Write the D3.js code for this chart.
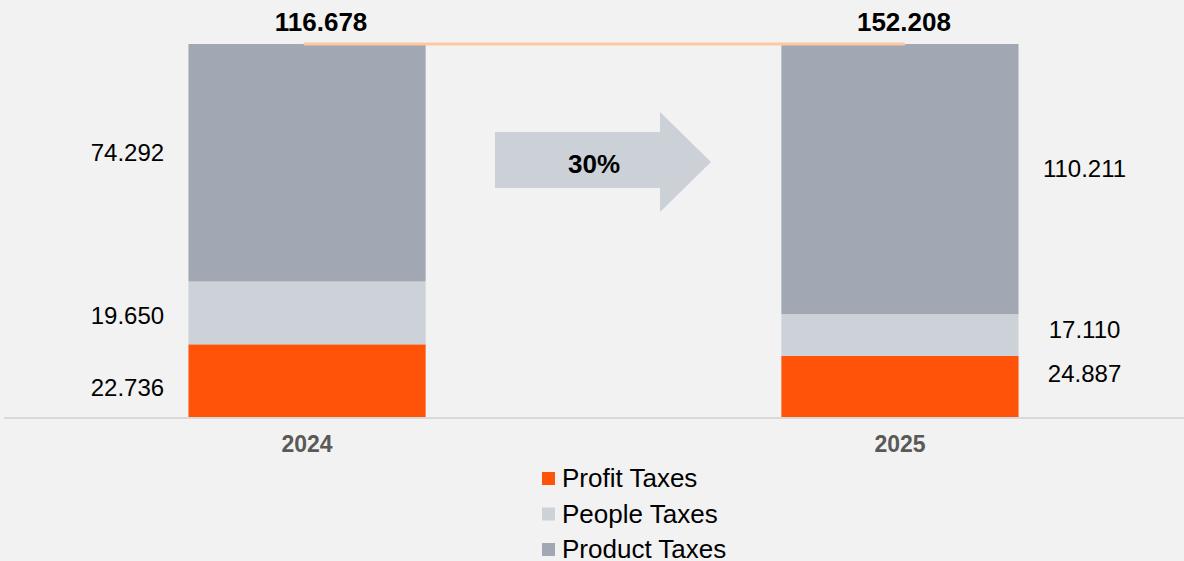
<!DOCTYPE html>
<html>
<head>
<meta charset="utf-8">
<script src="https://cdn.jsdelivr.net/npm/d3@7"></script>
<style>
  html, body { margin: 0; padding: 0; background: #f2f2f2; }
  svg { display: block; font-family: "Liberation Sans", Arial, sans-serif; }
</style>
</head>
<body>
<svg width="1184" height="561"></svg>
<script>
let years = ['2024', '2025'];
let seriesNames = ['Profit Taxes', 'People Taxes', 'Product Taxes'];
let profitTaxes = [22.736, 24.887];
let peopleTaxes = [19.650, 17.110];
let productTaxes = [74.292, 110.211];
let totalLabels = ['116.678', '152.208'];
let valueLabels = [['22.736', '19.650', '74.292'], ['24.887', '17.110', '110.211']];
let growthLabel = '30%';

let width = 1184;
let height = 561;

let colorScale = d3.scaleOrdinal()
    .domain(seriesNames)
    .range(['#ff530a', '#cdd2d9', '#a2a8b3']);

let rows = years.map((y, i) => {
    let total = profitTaxes[i] + peopleTaxes[i] + productTaxes[i];
    return {
        year: y,
        'Profit Taxes': profitTaxes[i] / total,
        'People Taxes': peopleTaxes[i] / total,
        'Product Taxes': productTaxes[i] / total
    };
});

let stacked = d3.stack().keys(seriesNames)(rows);

let x = d3.scaleBand()
    .domain(years)
    .range([10, 1197])
    .paddingInner(0.6)
    .paddingOuter(0.301);

let y = d3.scaleLinear()
    .domain([0, 1])
    .range([417, 44]);

let svg = d3.select('svg')
    .attr('width', width)
    .attr('height', height);

// bars
svg.append('g')
    .selectAll('g')
    .data(stacked)
    .enter()
    .append('g')
        .attr('fill', d => colorScale(d.key))
    .selectAll('rect')
    .data(d => d)
    .enter()
    .append('rect')
        .attr('x', d => x(d.data.year))
        .attr('y', d => y(d[1]))
        .attr('width', x.bandwidth())
        .attr('height', d => y(d[0]) - y(d[1]));

// baseline
svg.append('line')
    .attr('x1', 4)
    .attr('x2', width)
    .attr('y1', y(0) + 1)
    .attr('y2', y(0) + 1)
    .attr('stroke', '#d9d9d9')
    .attr('stroke-width', 2);

// x axis labels
let xAxis = svg.append('g')
    .attr('transform', `translate(0 ${y(0)})`)
    .call(d3.axisBottom(x).tickSize(0).tickPadding(19));
xAxis.select('.domain').remove();
xAxis.selectAll('text')
    .attr('font-size', 23)
    .attr('font-weight', 'bold')
    .attr('fill', '#595959')
    .attr('font-family', '"Liberation Sans", Arial, sans-serif');

// connector line between the totals
svg.append('line')
    .attr('x1', x('2024') + x.bandwidth() / 2 - 2)
    .attr('x2', x('2025') + x.bandwidth() / 2 + 4)
    .attr('y1', y(1))
    .attr('y2', y(1))
    .attr('stroke', '#fcc8a2')
    .attr('stroke-width', 3)
    .attr('stroke-linecap', 'round');

// totals
let totalNudge = [14, 4];
svg.append('g')
    .selectAll('text')
    .data(years)
    .enter()
    .append('text')
        .attr('x', (d, i) => x(d) + x.bandwidth() / 2 + totalNudge[i])
        .attr('y', y(1) - 13)
        .attr('text-anchor', 'middle')
        .attr('font-size', 26)
        .attr('font-weight', 'bold')
        .attr('fill', '#000')
        .text((d, i) => totalLabels[i]);

// segment value labels (left of 2024 bar, right of 2025 bar)
let labelOffsets = [[7, 3, -10], [-13, -5, -10]];
stacked.forEach((layer, k) => {
    layer.forEach((d, i) => {
        let cx = i === 0 ? x(d.data.year) - 61 : x(d.data.year) + x.bandwidth() + 66;
        let cy = (y(d[0]) + y(d[1])) / 2 + labelOffsets[i][k];
        svg.append('text')
            .attr('x', cx)
            .attr('y', cy)
            .attr('dy', '0.35em')
            .attr('text-anchor', 'middle')
            .attr('font-size', 24)
            .attr('fill', '#000')
            .text(valueLabels[i][k]);
    });
});

// growth arrow
let arrow = d3.path();
arrow.moveTo(495, 132);
arrow.lineTo(660, 132);
arrow.lineTo(660, 112);
arrow.lineTo(711, 162);
arrow.lineTo(660, 212);
arrow.lineTo(660, 188);
arrow.lineTo(495, 188);
arrow.closePath();
svg.append('path')
    .attr('d', arrow.toString())
    .attr('fill', '#ccd1d8');
svg.append('text')
    .attr('x', 594)
    .attr('y', 164)
    .attr('dy', '0.35em')
    .attr('text-anchor', 'middle')
    .attr('font-size', 26)
    .attr('font-weight', 'bold')
    .text(growthLabel);

// legend
let legend = svg.append('g')
    .attr('transform', 'translate(542 478)')
    .selectAll('g')
    .data(seriesNames)
    .enter()
    .append('g')
        .attr('transform', (d, i) => `translate(0 ${i * 35.5})`);
legend.append('rect')
    .attr('x', 0)
    .attr('y', -6)
    .attr('width', 13)
    .attr('height', 13)
    .attr('fill', d => colorScale(d));
legend.append('text')
    .attr('x', 20)
    .attr('y', 0)
    .attr('dy', '0.35em')
    .attr('font-size', 26)
    .attr('fill', '#000')
    .text(d => d);
</script>
</body>
</html>
